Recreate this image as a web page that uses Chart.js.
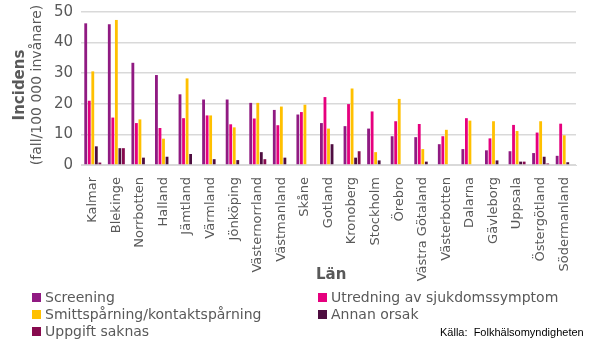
<!DOCTYPE html>
<html>
<head>
<meta charset="UTF-8">
<title>Incidens per län</title>
<style type="text/css">
    body {
        margin: 0;
        padding: 0;
        background-color: #ffffff;
        font-family: 'DejaVu Sans', sans-serif;
    }
    #wrap {
        position: relative;
        width: 590px;
        height: 343px;
    }
    #chartBox {
        position: absolute;
        left: 0;
        top: 0;
        width: 590px;
        height: 290px;
    }
    #xTitle {
        position: absolute;
        left: 316px;
        top: 265px;
        font-size: 15px;
        font-weight: bold;
        color: #595959;
    }
    .leg {
        position: absolute;
        font-size: 14px;
        color: #595959;
        white-space: nowrap;
    }
    .leg span {
        display: inline-block;
        width: 9px;
        height: 9px;
        margin-right: 4px;
    }
    #source {
        position: absolute;
        left: 440px;
        top: 326px;
        font-family: 'Liberation Sans', sans-serif;
        font-size: 11px;
        color: #000000;
    }
</style>
<script src="https://cdn.jsdelivr.net/npm/chart.js@4.4.0/dist/chart.umd.min.js"></script>
</head>
<body>
<div id="wrap">
    <div id="chartBox"><canvas id="barChart" width="590" height="290"></canvas></div>
    <div id="xTitle">Län</div>
    <div id="legendBox"></div>
    <div id="source">Källa:&nbsp; Folkhälsomyndigheten</div>
</div>

<script type="text/javascript">
// län (kategorier)
var lan = ['Kalmar', 'Blekinge', 'Norrbotten', 'Halland', 'Jämtland', 'Värmland', 'Jönköping',
    'Västernorrland', 'Västmanland', 'Skåne', 'Gotland', 'Kronoberg', 'Stockholm', 'Örebro',
    'Västra Götaland', 'Västerbotten', 'Dalarna', 'Gävleborg', 'Uppsala', 'Östergötland', 'Södermanland'];

// incidens (fall/100 000 invånare) per orsak
var screening   = [46.3, 46.0, 33.4, 29.4, 23.1, 21.4, 21.4, 20.3, 18.0, 16.5, 13.7, 12.7, 11.9, 9.4, 9.1, 6.8, 5.2, 4.8, 4.5, 3.9, 3.0];
var utredning   = [21.0, 15.5, 13.7, 12.1, 15.3, 16.2, 13.3, 15.2, 13.0, 17.3, 22.2, 19.9, 17.5, 14.3, 13.4, 9.4, 15.3, 8.7, 13.1, 10.6, 13.5];
var smittspar   = [30.6, 47.4, 14.9, 8.6, 28.3, 16.2, 12.3, 20.3, 19.1, 19.7, 11.9, 25.0, 4.2, 21.6, 5.2, 11.5, 14.5, 14.3, 11.1, 14.3, 9.7];
var annanOrsak  = [6.1, 5.5, 2.4, 2.7, 3.6, 1.9, 1.6, 4.2, 2.4, 0, 6.8, 2.4, 1.5, 0, 1.1, 0, 0, 1.5, 1.1, 2.7, 0.9];
var uppgiftSakn = [0.8, 5.5, 0, 0, 0, 0, 0, 1.9, 0, 0, 0, 4.5, 0, 0, 0, 0, 0, 0, 1.1, 0.5, 0];

var yTicks = [0, 10, 20, 30, 40, 50];

var serier = [
    { label: 'Screening', data: screening, color: '#901a82' },
    { label: 'Utredning av sjukdomssymptom', data: utredning, color: '#e6007e' },
    { label: 'Smittspårning/kontaktspårning', data: smittspar, color: '#ffc000' },
    { label: 'Annan orsak', data: annanOrsak, color: '#4e0d40' },
    { label: 'Uppgift saknas', data: uppgiftSakn, color: '#870a4e' }
];

// y-axelns titel i två rader (fet + normal)
var yTitlePlugin = {
    id: 'yTitle',
    afterDraw: function (chart) {
        var ctx = chart.ctx;
        ctx.save();
        ctx.fillStyle = '#595959';
        ctx.textAlign = 'center';
        ctx.textBaseline = 'middle';
        ctx.translate(20, 85);
        ctx.rotate(-Math.PI / 2);
        ctx.font = 'bold 15px "DejaVu Sans"';
        ctx.fillText('Incidens', 0, 0);
        ctx.font = '14px "DejaVu Sans"';
        ctx.fillText('(fall/100 000 invånare)', 0, 17);
        ctx.restore();
    }
};

var datasets = [];
for (var i = 0; i < serier.length; i++) {
    datasets.push({
        label: serier[i].label,
        data: serier[i].data,
        backgroundColor: serier[i].color,
        categoryPercentage: 0.75,
        barPercentage: 0.8
    });
}

var ctx = document.getElementById('barChart').getContext('2d');
var barChart = new Chart(ctx, {
    type: 'bar',
    data: { labels: lan, datasets: datasets },
    plugins: [yTitlePlugin],
    options: {
        responsive: false,
        animation: false,
        devicePixelRatio: 1,
        layout: { padding: { top: 12, right: 14 } },
        plugins: {
            legend: { display: false },
            tooltip: { enabled: false }
        },
        scales: {
            x: {
                grid: { display: false },
                border: { color: '#d9d9d9', width: 1 },
                ticks: {
                    color: '#595959',
                    font: { family: 'DejaVu Sans', size: 13 },
                    minRotation: 90,
                    maxRotation: 90,
                    autoSkip: false,
                    padding: 4
                },
                afterFit: function (scale) { scale.height = 125; }
            },
            y: {
                min: 0,
                max: 50,
                afterBuildTicks: function (scale) {
                    scale.ticks = yTicks.map(function (v) { return { value: v }; });
                },
                grid: { color: '#d9d9d9', lineWidth: 1.5, drawTicks: false },
                border: { display: false },
                ticks: {
                    color: '#595959',
                    font: { family: 'DejaVu Sans', size: 15 },
                    padding: 8
                },
                afterFit: function (scale) {
                    scale.width = 81;
                    scale.paddingTop = 0;
                    scale.paddingBottom = 0;
                }
            }
        }
    }
});

// legend i två kolumner
var legendBox = document.getElementById('legendBox');
var legPos = [[32, 289], [318, 289], [32, 306], [318, 306], [32, 323]];
for (var k = 0; k < serier.length; k++) {
    var el = document.createElement('div');
    el.className = 'leg';
    el.style.left = legPos[k][0] + 'px';
    el.style.top = legPos[k][1] + 'px';
    el.innerHTML = '<span style="background:' + serier[k].color + '"></span>' + serier[k].label;
    legendBox.appendChild(el);
}
</script>
</body>
</html>
